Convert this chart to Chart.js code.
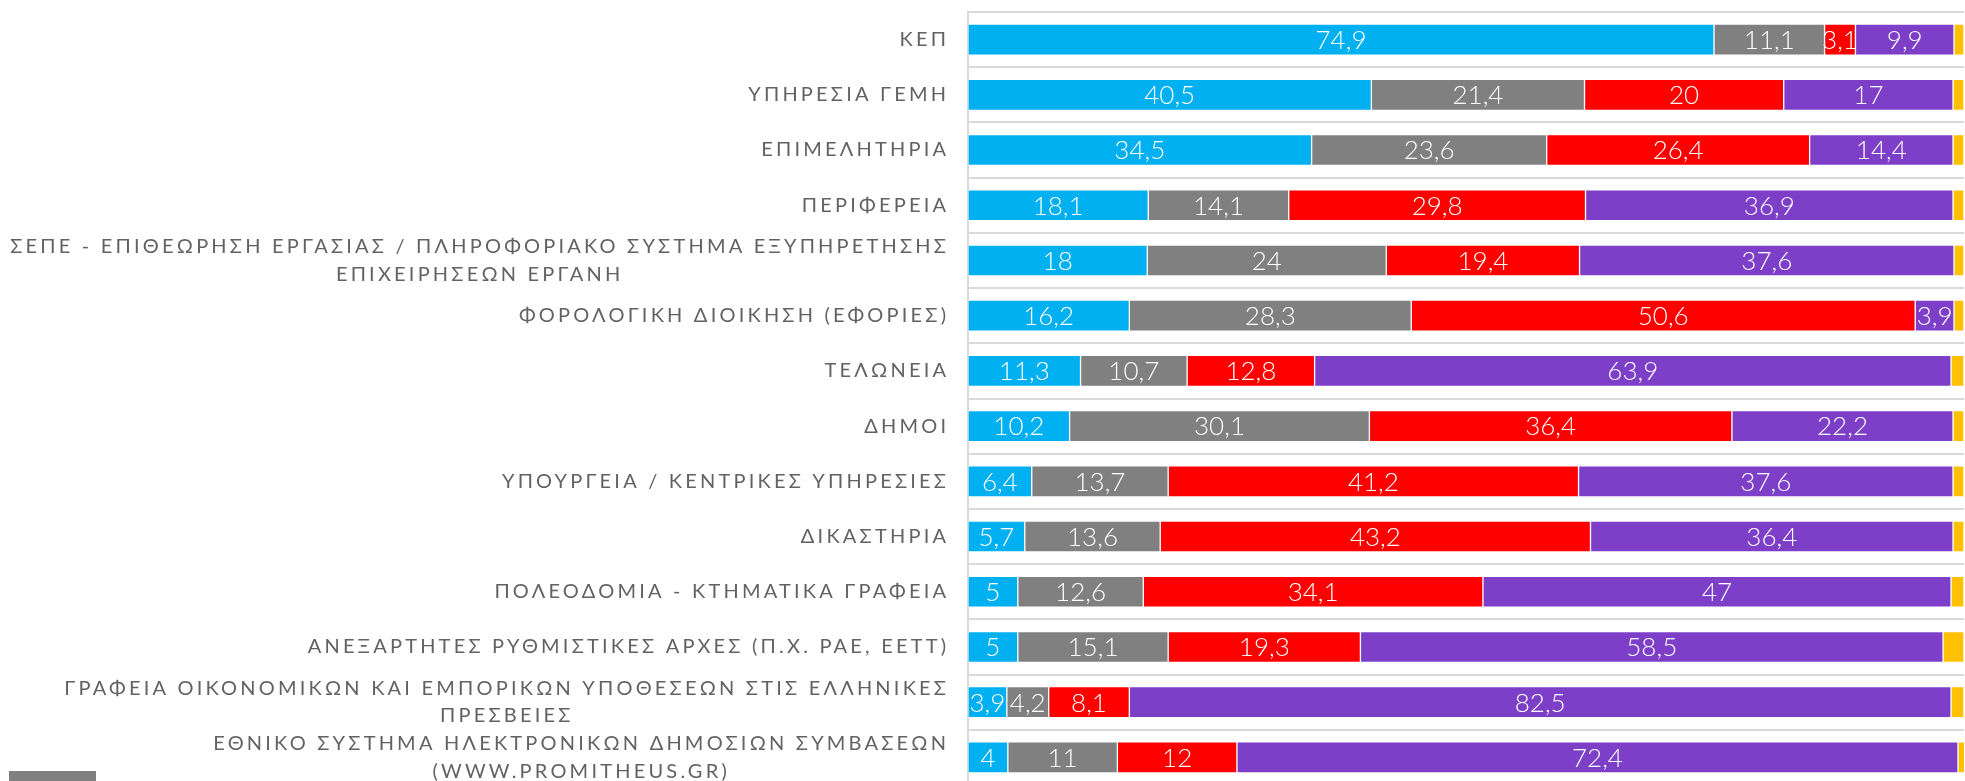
<!DOCTYPE html>
<html>
<head>
<meta charset="utf-8">
<script src="https://cdn.jsdelivr.net/npm/chart.js@4"></script>
<style>
  html, body { margin: 0; padding: 0; background: #fff; overflow: hidden; }
  #wrap { position: relative; width: 1965px; height: 800px; }
  #legendBox { position: absolute; left: 9px; top: 771px; width: 87px; height: 20px; background: #808080; }
</style>
</head>
<body>
<div id="wrap">
  <canvas id="chart"></canvas>
  <div id="legendBox"></div>
</div>
<script>
// categories (top to bottom), multi-line ones as arrays
const categories = [
  ['ΚΕΠ'],
  ['ΥΠΗΡΕΣΙΑ ΓΕΜΗ'],
  ['ΕΠΙΜΕΛΗΤΗΡΙΑ'],
  ['ΠΕΡΙΦΕΡΕΙΑ'],
  ['ΣΕΠΕ - ΕΠΙΘΕΩΡΗΣΗ ΕΡΓΑΣΙΑΣ / ΠΛΗΡΟΦΟΡΙΑΚΟ ΣΥΣΤΗΜΑ ΕΞΥΠΗΡΕΤΗΣΗΣ', 'ΕΠΙΧΕΙΡΗΣΕΩΝ ΕΡΓΑΝΗ'],
  ['ΦΟΡΟΛΟΓΙΚΗ ΔΙΟΙΚΗΣΗ (ΕΦΟΡΙΕΣ)'],
  ['ΤΕΛΩΝΕΙΑ'],
  ['ΔΗΜΟΙ'],
  ['ΥΠΟΥΡΓΕΙΑ / ΚΕΝΤΡΙΚΕΣ ΥΠΗΡΕΣΙΕΣ'],
  ['ΔΙΚΑΣΤΗΡΙΑ'],
  ['ΠΟΛΕΟΔΟΜΙΑ - ΚΤΗΜΑΤΙΚΑ ΓΡΑΦΕΙΑ'],
  ['ΑΝΕΞΑΡΤΗΤΕΣ ΡΥΘΜΙΣΤΙΚΕΣ ΑΡΧΕΣ (Π.Χ. ΡΑΕ, ΕΕΤΤ)'],
  ['ΓΡΑΦΕΙΑ ΟΙΚΟΝΟΜΙΚΩΝ ΚΑΙ ΕΜΠΟΡΙΚΩΝ ΥΠΟΘΕΣΕΩΝ ΣΤΙΣ ΕΛΛΗΝΙΚΕΣ', 'ΠΡΕΣΒΕΙΕΣ'],
  ['ΕΘΝΙΚΟ ΣΥΣΤΗΜΑ ΗΛΕΚΤΡΟΝΙΚΩΝ ΔΗΜΟΣΙΩΝ ΣΥΜΒΑΣΕΩΝ', '(WWW.PROMITHEUS.GR)']
];

const seriesBlue   = [74.9, 40.5, 34.5, 18.1, 18, 16.2, 11.3, 10.2, 6.4, 5.7, 5, 5, 3.9, 4];
const seriesGray   = [11.1, 21.4, 23.6, 14.1, 24, 28.3, 10.7, 30.1, 13.7, 13.6, 12.6, 15.1, 4.2, 11];
const seriesRed    = [3.1, 20, 26.4, 29.8, 19.4, 50.6, 12.8, 36.4, 41.2, 43.2, 34.1, 19.3, 8.1, 12];
const seriesPurple = [9.9, 17, 14.4, 36.9, 37.6, 3.9, 63.9, 22.2, 37.6, 36.4, 47, 58.5, 82.5, 72.4];
const seriesOrange = [1, 1.1, 1.1, 1.1, 1, 1, 1.3, 1.1, 1.1, 1.1, 1.3, 2.1, 1.3, 1];

const colors = ['#00B0F0', '#808080', '#FF0000', '#7E3FC8', '#FFC000'];
const FONT = 'Lato, "Open Sans", sans-serif';

const fmt = v => String(v).replace('.', ',');

// draws the category labels: right-aligned blocks, lines centred in each block
const labelPlugin = {
  id: 'catLabels',
  afterDraw(chart) {
    const ctx = chart.ctx;
    const y = chart.scales.y;
    const right = 946;
    const spacing = 3.2;
    const lh = 27.6;
    ctx.save();
    ctx.font = '20px ' + FONT;
    ctx.letterSpacing = spacing + 'px';
    ctx.fillStyle = '#626262';
    ctx.textAlign = 'center';
    ctx.textBaseline = 'middle';
    categories.forEach((lines, i) => {
      const cy = y.getPixelForValue(i);
      const widths = lines.map(l => ctx.measureText(l).width - spacing);
      const w = Math.max(...widths);
      const cx = right - w / 2;
      const top = cy - (lines.length - 1) * lh / 2;
      lines.forEach((l, j) => {
        ctx.fillText(l, cx + spacing / 2, top + j * lh);
      });
    });
    ctx.restore();
  }
};

// white value labels inside segments
const valuePlugin = {
  id: 'values',
  afterDatasetsDraw(chart) {
    const ctx = chart.ctx;
    ctx.save();
    ctx.font = '300 26px ' + FONT;
    ctx.fillStyle = '#ffffff';
    ctx.textAlign = 'center';
    ctx.textBaseline = 'middle';
    for (let d = 0; d < 4; d++) {
      const meta = chart.getDatasetMeta(d);
      meta.data.forEach((bar, i) => {
        const v = chart.data.datasets[d].data[i];
        const cx = (bar.x + bar.base) / 2;
        ctx.fillText(fmt(v), cx, bar.y + 1);
      });
    }
    ctx.restore();
  }
};

const mk = (data, c) => ({
  data: data,
  backgroundColor: c,
  borderColor: 'rgba(255,255,255,0.35)',
  borderWidth: 1,
  borderSkipped: false,
  barThickness: 31
});

new Chart(document.getElementById('chart'), {
  type: 'bar',
  data: {
    labels: categories.map(l => l.join(' ')),
    datasets: [
      mk(seriesBlue, colors[0]),
      mk(seriesGray, colors[1]),
      mk(seriesRed, colors[2]),
      mk(seriesPurple, colors[3]),
      mk(seriesOrange, colors[4])
    ]
  },
  options: {
    indexAxis: 'y',
    responsive: true,
    maintainAspectRatio: false,
    animation: false,
    layout: { padding: { top: 12, bottom: 15, left: 0, right: 1 } },
    plugins: { legend: { display: false }, tooltip: { enabled: false } },
    scales: {
      x: { stacked: true, min: 0, max: 100, display: false },
      y: {
        stacked: true,
        afterFit(s) { s.width = 968; },
        ticks: { display: false },
        grid: { offset: true, color: '#d9d9d9', lineWidth: 2, drawTicks: false },
        border: { color: '#d9d9d9', width: 2 }
      }
    }
  },
  plugins: [labelPlugin, valuePlugin]
});
</script>
</body>
</html>
